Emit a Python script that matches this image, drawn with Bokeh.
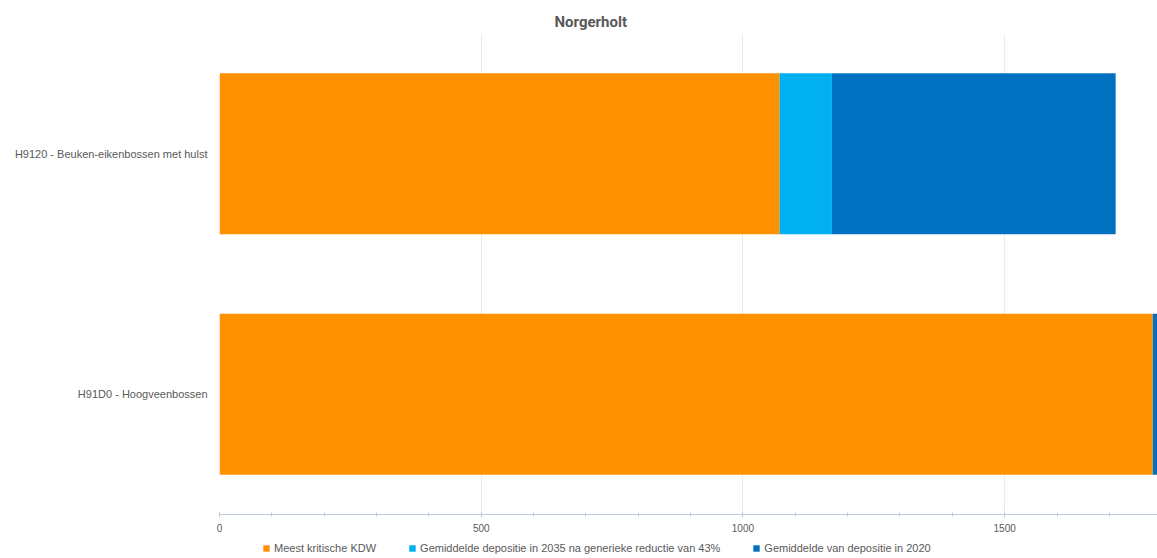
from bokeh.plotting import figure
from bokeh.models import ColumnDataSource, FactorRange, Range1d, Legend, LegendItem, Title
from bokeh.layouts import column
from bokeh.embed import file_html
from bokeh.resources import INLINE

title_text = "Norgerholt"
categories = ["H9120 - Beuken-eikenbossen met hulst", "H91D0 - Hoogveenbossen"]
series_names = ["Meest kritische KDW",
                "Gemiddelde depositie in 2035 na generieke reductie van 43%",
                "Gemiddelde van depositie in 2020"]
kdw = [1070, 1783]
dep2035 = [100, 0]
dep2020 = [542, 12]
colors = ["#FF9100", "#00B0F0", "#0070C0"]

src = ColumnDataSource(dict(cat=categories, kdw=kdw, d35=dep2035, d20=dep2020))

FONT = "Liberation Sans"
TXT = "#595959"
p = figure(width=1157, height=536, output_backend="svg", toolbar_location=None,
           y_range=FactorRange(*list(reversed(categories))),
           x_range=Range1d(0, 1792),
           min_border_left=219, min_border_right=0, min_border_top=33, min_border_bottom=22)
p.outline_line_color = None
p.background_fill_color = "white"

rs = p.hbar_stack(["kdw", "d35", "d20"], y="cat", height=0.67, color=colors,
                  line_color=None, source=src)

p.title = Title(text=title_text, align="left", offset=335, text_font="Roboto",
                text_font_size="15px", text_font_style="bold", text_color=TXT,
                standoff=5)

p.ygrid.grid_line_color = None
p.xgrid.grid_line_color = "#EBEBEB"
p.xgrid.grid_line_width = 1

ya = p.yaxis[0]
ya.axis_line_color = None
ya.major_tick_line_color = None
ya.minor_tick_line_color = None
ya.major_tick_out = 0
ya.major_tick_in = 0
ya.major_label_standoff = 12
ya.major_label_text_font = FONT
ya.major_label_text_font_size = "11px"
ya.major_label_text_color = TXT

xa = p.xaxis[0]
xa.ticker.desired_num_ticks = 4
xa.ticker.num_minor_ticks = 5
xa.axis_line_color = "#BCCCDC"
xa.major_tick_line_color = "#BCCCDC"
xa.minor_tick_line_color = "#BCCCDC"
xa.major_tick_in = 3
xa.major_tick_out = 3
xa.minor_tick_in = 2
xa.minor_tick_out = 2
xa.major_label_standoff = 6
xa.major_label_text_font = FONT
xa.major_label_text_font_size = "10px"
xa.major_label_text_color = TXT

# legend strip below the chart (its frame is aligned with the chart's frame)
lg = figure(width=1157, height=22, output_backend="svg", toolbar_location=None,
            x_range=Range1d(0, 1), y_range=Range1d(0, 1),
            min_border_left=0, min_border_right=0, min_border_top=0, min_border_bottom=0)
lg.axis.visible = False
lg.grid.visible = False
lg.outline_line_color = None
offscreen = ColumnDataSource(dict(x=[-10], y=[-10]))
lrs = [lg.rect(x="x", y="y", width=1, height=1, fill_color=c, line_color=None, source=offscreen)
       for c in colors]
legend = Legend(items=[LegendItem(label=n, renderers=[r]) for n, r in zip(series_names, lrs)],
                orientation="horizontal", location=(43, 4),
                glyph_width=8, glyph_height=8, label_standoff=4, spacing=32,
                padding=0, margin=0, border_line_color=None, background_fill_alpha=0,
                label_text_font=FONT, label_text_font_size="11px",
                label_text_color=TXT, label_height=12)
lg.add_layout(legend)

layout = column(p, lg, spacing=0)
open("out.html", "w").write(file_html(layout, INLINE))
